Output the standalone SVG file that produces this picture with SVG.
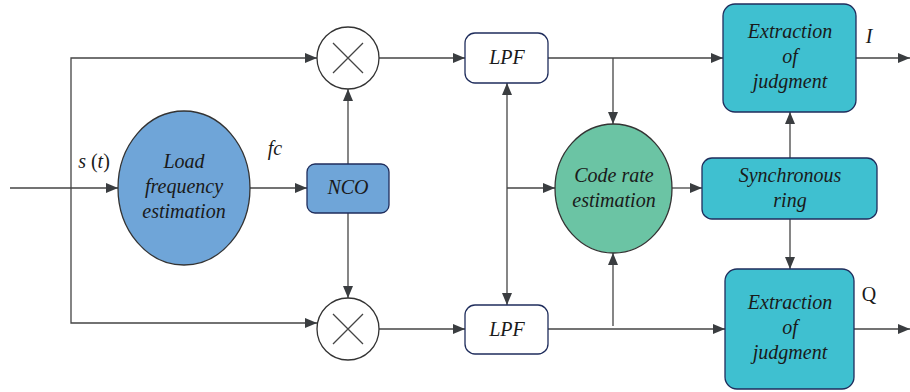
<svg xmlns="http://www.w3.org/2000/svg" width="910" height="392" viewBox="0 0 910 392">
  <style>
    .wire { fill: none; stroke: #444; stroke-width: 1.3; }
    .arr { marker-end: url(#ah); }
    .lbl { font-family: "Liberation Serif", "Times New Roman", serif; font-style: italic; font-size: 20px; fill: #1a1a1a; text-anchor: middle; }
    .up { font-style: normal; }
    .mix { fill: #fff; stroke: #333; stroke-width: 1.3; }
    .box { stroke: #1f2d5c; stroke-width: 1.3; }
  </style>
  <defs>
    <marker id="ah" markerUnits="userSpaceOnUse" markerWidth="13" markerHeight="11" refX="12" refY="5" orient="auto">
      <path d="M0,0 L12,5 L0,10 z" fill="#3a3d40"/>
    </marker>
  </defs>
  <rect width="910" height="392" fill="#fff"/>

  <!-- connectors -->
  <g id="connectors">
    <path class="wire arr" d="M10,188 H118"/>
    <path class="wire arr" d="M71,188 V58 H317"/>
    <path class="wire arr" d="M71,188 V323 H317"/>
    <path class="wire arr" d="M250,188 H307"/>
    <path class="wire arr" d="M348,164 V89"/>
    <path class="wire arr" d="M348,213 V298"/>
    <path class="wire arr" d="M379,58 H465"/>
    <path class="wire arr" d="M379,329 H465"/>
    <path class="wire arr" d="M507,188 V83"/>
    <path class="wire arr" d="M507,188 V305"/>
    <path class="wire arr" d="M507,188 H555"/>
    <path class="wire arr" d="M548,58 H723"/>
    <path class="wire arr" d="M613,58 V124"/>
    <path class="wire arr" d="M548,329 H725"/>
    <path class="wire arr" d="M613,326 V253"/>
    <path class="wire arr" d="M672,188 H702"/>
    <path class="wire arr" d="M790,158 V112"/>
    <path class="wire arr" d="M790,219 V269"/>
    <path class="wire arr" d="M856,58 H910"/>
    <path class="wire arr" d="M854,329 H910"/>
  </g>

  <!-- signal labels -->
  <g id="labels">
    <text class="lbl" x="94" y="168">s <tspan class="up">(</tspan>t<tspan class="up">)</tspan></text>
    <text class="lbl" x="275" y="155">fc</text>
    <text class="lbl" x="869" y="43">I</text>
    <text class="lbl up" x="869" y="301">Q</text>
  </g>

  <g id="mixer-top">
    <circle class="mix" cx="348" cy="58" r="31"/>
    <path class="wire" d="M333,43 L363,73 M363,43 L333,73"/>
  </g>

  <g id="mixer-bottom">
    <circle class="mix" cx="348" cy="329" r="31"/>
    <path class="wire" d="M333,314 L363,344 M363,314 L333,344"/>
  </g>

  <g id="load-frequency">
    <ellipse cx="184" cy="188" rx="66" ry="77" fill="#6fa5d8" stroke="#333" stroke-width="1.3"/>
    <text class="lbl" x="184" y="168">Load</text>
    <text class="lbl" x="184" y="193">frequency</text>
    <text class="lbl" x="184" y="218">estimation</text>
  </g>

  <g id="nco">
    <rect class="box" x="307" y="164" width="82" height="49" rx="8" fill="#6fa5d8"/>
    <text class="lbl" x="348" y="194">NCO</text>
  </g>

  <g id="lpf-top">
    <rect class="box" x="465" y="33" width="83" height="50" rx="10" fill="#fff"/>
    <text class="lbl" x="507" y="64">LPF</text>
  </g>

  <g id="lpf-bottom">
    <rect class="box" x="465" y="305" width="83" height="49" rx="10" fill="#fff"/>
    <text class="lbl" x="507" y="336">LPF</text>
  </g>

  <g id="code-rate">
    <ellipse cx="613.5" cy="188.5" rx="58.5" ry="64.5" fill="#6bc4a4" stroke="#333" stroke-width="1.3"/>
    <text class="lbl" x="614" y="182">Code rate</text>
    <text class="lbl" x="614" y="207">estimation</text>
  </g>

  <g id="sync-ring">
    <rect class="box" x="702" y="158" width="175" height="61" rx="10" fill="#3fc0d0"/>
    <text class="lbl" x="790" y="182">Synchronous</text>
    <text class="lbl" x="790" y="207">ring</text>
  </g>

  <g id="extract-top">
    <rect class="box" x="723" y="4" width="133" height="108" rx="12" fill="#3fc0d0"/>
    <text class="lbl" x="790" y="38">Extraction</text>
    <text class="lbl" x="790" y="63">of</text>
    <text class="lbl" x="790" y="88">judgment</text>
  </g>

  <g id="extract-bottom">
    <rect class="box" x="725" y="269" width="129" height="120" rx="12" fill="#3fc0d0"/>
    <text class="lbl" x="790" y="309">Extraction</text>
    <text class="lbl" x="790" y="334">of</text>
    <text class="lbl" x="790" y="359">judgment</text>
  </g>
</svg>
